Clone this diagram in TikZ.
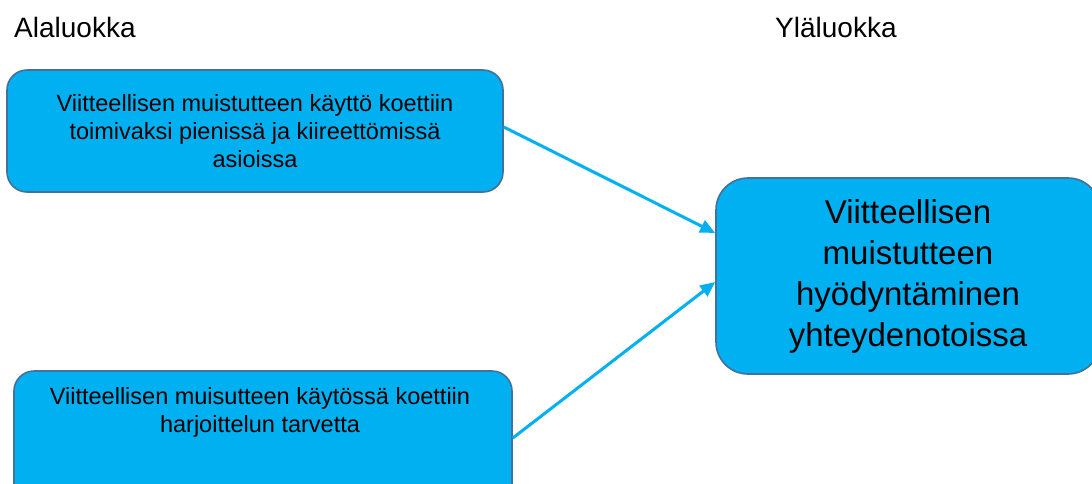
\documentclass[tikz,border=0pt]{standalone}
\usepackage{fontspec}
\setmainfont{Liberation Sans}
\usetikzlibrary{arrows.meta,calc}
\definecolor{boxfill}{HTML}{00B0F0}
\definecolor{boxline}{HTML}{41719C}
\tikzset{
  cardbox/.style={draw=boxline, line width=1.6pt, fill=boxfill, rounded corners=20pt, inner sep=0pt},
  bigcard/.style={cardbox, rounded corners=32pt},
  smalltext/.style={align=center, font=\fontsize{23.5}{28}\selectfont, text=black},
  bigtext/.style={align=center, font=\fontsize{33}{41}\selectfont, text=black},
  heading/.style={anchor=base west, font=\fontsize{28}{32}\selectfont, text=black, inner sep=0pt},
  link/.style={draw=boxfill, line width=3pt, -{Triangle[length=15pt,width=13pt]}, shorten >=0pt}
}
\begin{document}
\begin{tikzpicture}[x=1pt,y=-1pt]
  \clip (0,0) rectangle (1092,483);
  \fill[white] (0,0) rectangle (1092,483);

  % column headings
  \node[heading] (low) at (14,37) {Alaluokka};
  \node[heading] (high) at (775,37) {Yläluokka};

  % lower-category boxes
  \node[cardbox, smalltext, minimum width=496pt, minimum height=122pt] (a) at (255,131)
    {Viitteellisen muistutteen käyttö koettiin\\toimivaksi pienissä ja kiireettömissä\\asioissa};
  \node[cardbox, minimum width=498pt, minimum height=134pt] (b) at (263,438) {};
  % base anchor of a multi-line node sits on its last line
  \node[smalltext, anchor=base] (bt) at (260,432)
    {Viitteellisen muisutteen käytössä koettiin\\harjoittelun tarvetta};

  % upper-category box
  \node[bigcard, bigtext, minimum width=384pt, minimum height=196pt] (c) at (908,276)
    {Viitteellisen\\muistutteen\\hyödyntäminen\\yhteydenotoissa};

  % connectors
  \draw[link] ($(a.east)+(0,-4)$) -- ($(c.west)+(0,-43)$);
  \draw[link] (b.east) -- ($(c.west)+(0,6)$);
\end{tikzpicture}
\end{document}
